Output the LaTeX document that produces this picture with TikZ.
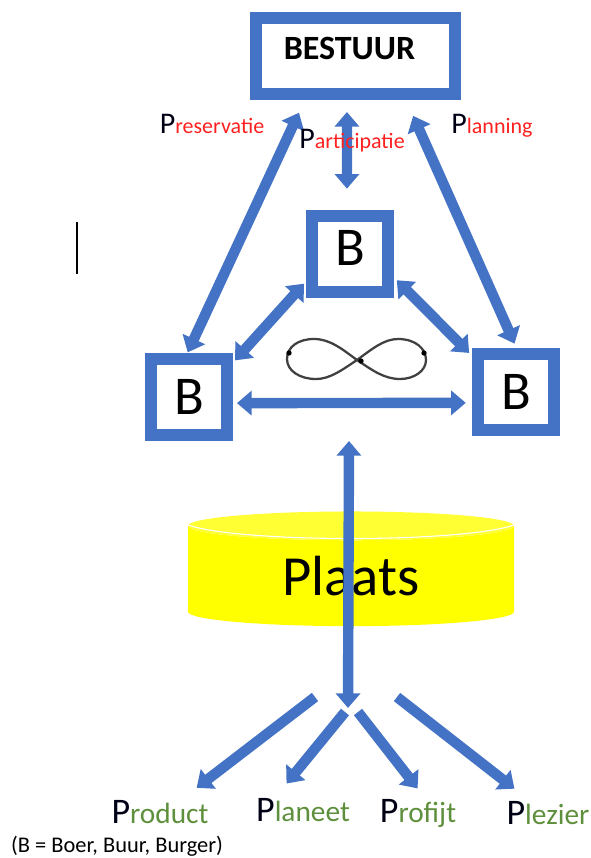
\documentclass[tikz,border=0pt]{standalone}
\usepackage{fontspec}
\setmainfont{Carlito}
\usepackage{xcolor}
\usepackage{tikz}
\usetikzlibrary{arrows.meta, shapes.geometric}
\definecolor{boxblue}{HTML}{4472C4}
\definecolor{labelgreen}{HTML}{5E8F3C}
\definecolor{bodyyellow}{HTML}{FFFF00}
\definecolor{topyellow}{HTML}{FFFF33}
\definecolor{labelred}{HTML}{FF2020}
\newcommand{\plabel}[3]{{\fontsize{#1}{#1}\selectfont\textcolor{black!92!blue}{P}}{\fontsize{#2}{#2}\selectfont #3}}

\begin{document}
\begin{tikzpicture}[x=0.75pt, y=-0.75pt, >={Triangle[width=18pt, length=11pt]},
                    line width=7.8pt, draw=boxblue]
\tikzstyle{every node}=[draw=none, line width=0pt, inner sep=0pt]
\tikzstyle{bbox}=[rectangle, draw=boxblue, fill=white, line width=9pt, inner sep=0pt,
                    minimum size=57pt, font=\fontsize{41}{41}\selectfont]
\tikzstyle{redlabel}=[text=labelred]
\tikzstyle{greenlabel}=[text=labelgreen, minimum height=18pt]
\useasboundingbox (0,0) rectangle (590,858);
  \node[bbox, minimum width=149pt] (bestuur) at (355.5,56) {};
  \node[font=\fontsize{25.5}{25.5}\selectfont\bfseries] (bestuurtext) at (349.5,48) {BESTUUR};
  \node[bbox] (Bt) [below of=bestuur, node distance=148.5pt, xshift=-4.1pt] {\raisebox{9pt}{B}};
  \node[bbox] (Bl) [below of=Bt, node distance=107.2pt, xshift=-120.8pt] {B};
  \node[bbox] (Br) [right of=Bl, node distance=245.6pt, yshift=3.8pt] {B};
  \node[cylinder, shape border rotate=90, aspect=0.21, minimum width=244.5pt, minimum height=86pt,
        cylinder uses custom fill, cylinder body fill=bodyyellow, cylinder end fill=topyellow,
        font=\fontsize{42.5}{42.5}\selectfont] (plaats) at (351,576) {Plaats};
  \node[greenlabel] (product) at (160,812) {\plabel{27}{22}{roduct}};
  \node[greenlabel] (planeet) at (303,810) {\plabel{27}{22}{laneet}};
  \node[greenlabel] (profijt) at (418,813) {\plabel{27}{22}{rofijt}};
  \node[greenlabel] (plezier) at (548,813) {\plabel{27}{22}{lezier}};
  \node[font=\fontsize{16.8}{16.8}\selectfont] (legend) at (117,846) {(B = Boer, Buur,  Burger)};
  \coordinate (top) at (349,441);
  \coordinate (hub) at (348,708);
  \coordinate (hubA) at (315,697);
  \coordinate (hubB) at (345,712);
  \coordinate (hubC) at (358,712);
  \coordinate (hubD) at (397,697);
  \coordinate (cursorT) at (77,222);
  \coordinate (cursorB) at (77,274);
  \draw[white, line width=0.8pt] (188,525) .. controls (240,543) and (462,543) .. (514,525);
  \path[<->] (bestuur.221.6) edge [shorten <=10.5pt, shorten >=0.5pt] (Bl.92.6);
  \path[<->] (bestuur.319)   edge [shorten <=13pt, shorten >=3.5pt] (Br.90);
  \path[<->] (bestuur.259)   edge [shorten <=9pt, shorten >=16pt] (Bt.94);
  \path[<->] (Bt.212)  edge [shorten <=2.2pt, shorten >=2.2pt] (Bl.38);
  \path[<->] (Bt.332)  edge [shorten <=3pt, shorten >=3.5pt] (Br.141.8);
  \path[<->] (Bl.352)  edge [shorten <=3pt, shorten >=5pt] (Br.194);
  \path[<->] (top) edge (hub);
  \path[->]  (hubA) edge [shorten >=15pt] (product.30);
  \path[->]  (hubB) edge [shorten >=14pt] (planeet.157);
  \path[->]  (hubC) edge [shorten >=10pt] (profijt.61);
  \path[->]  (hubD) edge [shorten >=15pt] (plezier.146);
  \node[redlabel] (pres) at (212,124) {\plabel{22.5}{16.5}{reservatie}};
  \node[redlabel] (part) at (352,141) {\plabel{22.5}{16.5}{articipatie}};
  \node[redlabel] (plan) at (492,126) {\plabel{22.5}{16.5}{lanning}};
  % lemniscate between the three boxes
  \draw[black!75, line width=1.7pt] (357,360)
      .. controls (372,349) and (384,339) .. (398,339)
      .. controls (416,339) and (426,349) .. (426,360)
      .. controls (426,371) and (414,379) .. (400,379)
      .. controls (384,379) and (372,370) .. (357,360)
      .. controls (342,370) and (330,379) .. (316,379)
      .. controls (300,379) and (287,371) .. (287,359)
      .. controls (287,347) and (298,339) .. (314,339)
      .. controls (330,339) and (342,349) .. (357,360);
  \fill[black] (289,353) circle (2pt) (424,353) circle (2pt) (361,361) circle (2pt);
  \draw[black, line width=2.2pt] (cursorT) -- (cursorB);
\end{tikzpicture}
\end{document}
